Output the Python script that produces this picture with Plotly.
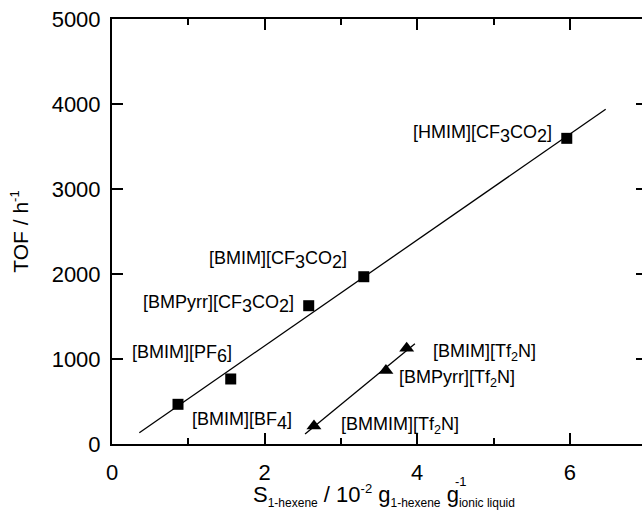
import plotly.graph_objects as go

# Data
S = "<sub><span style='font-size:18px'>{}</span></sub>"
sq_names = ["[BMIM][BF" + S.format("4") + "]",
            "[BMIM][PF" + S.format("6") + "]",
            "[BMPyrr][CF" + S.format("3") + "CO" + S.format("2") + "]",
            "[BMIM][CF" + S.format("3") + "CO" + S.format("2") + "]",
            "[HMIM][CF" + S.format("3") + "CO" + S.format("2") + "]"]
sq_x = [0.865, 1.556, 2.578, 3.30, 5.96]
sq_y = [467, 765, 1627, 1968, 3596]

tri_names = ["[BMMIM][Tf<sub>2</sub>N]", "[BMPyrr][Tf<sub>2</sub>N]", "[BMIM][Tf<sub>2</sub>N]"]
tri_x = [2.647, 3.59, 3.862]
tri_y = [212, 865, 1126]

# fitted lines (end points)
fit_sq_x = [0.358, 6.47]
fit_sq_y = [133, 3938]
fit_tri_x = [2.53, 3.97]
fit_tri_y = [118, 1180]

x_ticks = [0, 2, 4, 6]
y_ticks = [0, 1000, 2000, 3000, 4000, 5000]

x_title = ("S<sub><span style='font-size:12px'>1-hexene</span></sub> / 10"
           "<sup><span style='font-size:13px'>-2</span></sup> g"
           "<sub><span style='font-size:12px'>1-hexene</span></sub> g"
           "<sub><span style='font-size:12px'>ionic liquid</span></sub>")
y_title = "TOF / h<sup><span style='font-size:13px'>-1</span></sup>"

# label placement (pixel offsets from point): xanchor, xshift, yshift
sq_lab = [("left", 12, -17), ("right", 3, 25), ("right", -13, 2), ("right", -15, 17), ("right", -13, 4)]
tri_lab = [("left", 25, 0), ("left", 11, -8), ("left", 24, -4)]

FONT = "Liberation Sans, Arial, Helvetica, sans-serif"

fig = go.Figure()
fig.add_trace(go.Scatter(x=fit_sq_x, y=fit_sq_y, mode="lines",
                         line=dict(color="black", width=1.3), hoverinfo="skip"))
fig.add_trace(go.Scatter(x=fit_tri_x, y=fit_tri_y, mode="lines",
                         line=dict(color="black", width=1.3), hoverinfo="skip"))
fig.add_trace(go.Scatter(x=sq_x, y=sq_y, mode="markers",
                         marker=dict(symbol="square", size=11, color="black")))
fig.add_trace(go.Scatter(x=tri_x, y=tri_y, mode="markers",
                         marker=dict(symbol="triangle-up", size=13, color="black")))
# invisible trace carrying the right-hand tick axis (its frame line is cut off in the reference)
fig.add_trace(go.Scatter(x=sq_x, y=sq_y, yaxis="y2", mode="markers",
                         marker=dict(opacity=0), hoverinfo="skip"))

for (name, x, y, (xa, xs, ys)) in zip(sq_names, sq_x, sq_y, sq_lab):
    fig.add_annotation(x=x, y=y, text=name, showarrow=False, xanchor=xa,
                       yanchor="middle", xshift=xs, yshift=ys,
                       font=dict(family=FONT, size=18, color="black"))
for (name, x, y, (xa, xs, ys)) in zip(tri_names, tri_x, tri_y, tri_lab):
    fig.add_annotation(x=x, y=y, text=name, showarrow=False, xanchor=xa,
                       yanchor="middle", xshift=xs, yshift=ys,
                       font=dict(family=FONT, size=18, color="black"))

fig.update_layout(
    width=642, height=515,
    margin=dict(l=112, r=0, t=19, b=71, autoexpand=False),
    paper_bgcolor="white", plot_bgcolor="white",
    showlegend=False,
    font=dict(family=FONT, size=22, color="black"),
    xaxis=dict(range=[0, 6.946], tickvals=x_ticks, ticks="inside", ticklen=11,
               tickwidth=1.5, tickcolor="black", automargin=False,
               minor=dict(dtick=1, tick0=0, ticks="inside", ticklen=6, tickwidth=1.5,
                          tickcolor="black", showgrid=False),
               showline=True, linewidth=2, linecolor="black", mirror="ticks",
               showgrid=False, zeroline=False, ticklabelstandoff=8,
               tickfont=dict(size=22)),
    yaxis=dict(range=[0, 5000], tickvals=y_ticks, ticks="inside", ticklen=11,
               tickwidth=1.5, tickcolor="black", automargin=False,
               showline=True, linewidth=2, linecolor="black", mirror=False,
               showgrid=False, zeroline=False, tickfont=dict(size=22),
               ticklabelstandoff=5,
               title=dict(text=y_title, font=dict(size=21), standoff=17)),
    yaxis2=dict(range=[0, 5000], overlaying="y", side="right", tickvals=y_ticks,
                ticks="inside", ticklen=6, tickwidth=1.5, tickcolor="black", automargin=False,
                showticklabels=False, showline=False, showgrid=False, zeroline=False),
)
# x-axis title, and the superscript -1 stacked over the "ionic liquid" subscript
fig.add_annotation(x=0.513, y=-0.121, xref="paper", yref="paper", text=x_title,
                   showarrow=False, xanchor="center", yanchor="middle",
                   font=dict(family=FONT, size=22, color="black"))
fig.add_annotation(x=0.644, y=-0.088, xref="paper", yref="paper", text="-1",
                   showarrow=False, xanchor="left", yanchor="middle",
                   font=dict(family=FONT, size=13, color="black"))

fig.write_html("out.html", config={"displayModeBar": False},
               post_script="document.body.style.margin='0';document.body.style.overflow='hidden';")
